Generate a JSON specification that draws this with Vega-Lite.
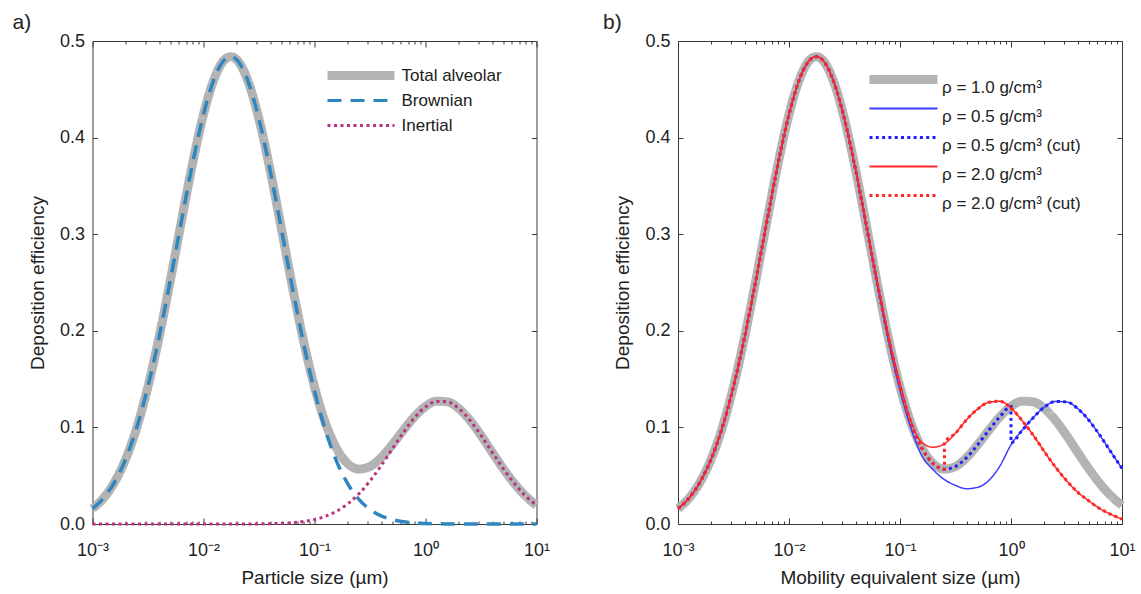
{
  "$schema": "https://vega.github.io/schema/vega-lite/v6.json",
  "padding": {"left": 11.5, "top": 11, "right": 3, "bottom": 5},
  "bounds": "flush",
  "spacing": 141.5,
  "resolve": {"scale": {"color": "independent", "strokeDash": "independent"}, "legend": {"color": "independent", "strokeDash": "independent"}},
  "config": {
    "font": "Liberation Sans",
    "view": {"stroke": "#3a3a3a", "strokeWidth": 1},
    "axis": {"labelFont": "Liberation Sans", "labelFontSize": 18, "labelColor": "#222", "titleFont": "Liberation Sans", "titleFontSize": 19, "titleFontWeight": "normal", "titleColor": "#222", "tickColor": "#3a3a3a", "grid": false, "domain": false},
    "title": {"font": "Liberation Sans", "fontSize": 21, "fontWeight": "normal", "color": "#222"}
  },
  "datasets": {
    "dep": [
      {"d": 0.001, "T": 0.0159, "B": 0.0159, "I": 0, "b": 0.0159, "r": 0.0159, "bc": 0.0159, "rc": 0.0159},
      {"d": 0.001259, "T": 0.0269, "B": 0.0269, "I": 0, "b": 0.0269, "r": 0.0269, "bc": 0.0269, "rc": 0.0269},
      {"d": 0.001585, "T": 0.0436, "B": 0.0436, "I": 0, "b": 0.0436, "r": 0.0436, "bc": 0.0436, "rc": 0.0436},
      {"d": 0.001995, "T": 0.0676, "B": 0.0676, "I": 0, "b": 0.0676, "r": 0.0676, "bc": 0.0676, "rc": 0.0676},
      {"d": 0.002512, "T": 0.1003, "B": 0.1003, "I": 0, "b": 0.1003, "r": 0.1003, "bc": 0.1003, "rc": 0.1003},
      {"d": 0.003162, "T": 0.1424, "B": 0.1424, "I": 0, "b": 0.1424, "r": 0.1424, "bc": 0.1424, "rc": 0.1424},
      {"d": 0.003981, "T": 0.1935, "B": 0.1935, "I": 0, "b": 0.1935, "r": 0.1935, "bc": 0.1935, "rc": 0.1935},
      {"d": 0.005012, "T": 0.2515, "B": 0.2515, "I": 0, "b": 0.2515, "r": 0.2515, "bc": 0.2515, "rc": 0.2515},
      {"d": 0.00631, "T": 0.3129, "B": 0.3129, "I": 0, "b": 0.3129, "r": 0.3129, "bc": 0.3129, "rc": 0.3129},
      {"d": 0.007943, "T": 0.3724, "B": 0.3724, "I": 0, "b": 0.3724, "r": 0.3724, "bc": 0.3724, "rc": 0.3724},
      {"d": 0.01, "T": 0.424, "B": 0.424, "I": 0, "b": 0.424, "r": 0.424, "bc": 0.424, "rc": 0.424},
      {"d": 0.01259, "T": 0.4621, "B": 0.4621, "I": 0, "b": 0.4621, "r": 0.4621, "bc": 0.4621, "rc": 0.4621},
      {"d": 0.01585, "T": 0.4817, "B": 0.4817, "I": 0, "b": 0.4817, "r": 0.4817, "bc": 0.4817, "rc": 0.4817},
      {"d": 0.01778, "T": 0.4838, "B": 0.4838, "I": 0, "b": 0.4838, "r": 0.4838, "bc": 0.4838, "rc": 0.4838},
      {"d": 0.01995, "T": 0.4806, "B": 0.4806, "I": 0, "b": 0.4806, "r": 0.4806, "bc": 0.4806, "rc": 0.4806},
      {"d": 0.02512, "T": 0.4588, "B": 0.4588, "I": 0, "b": 0.4588, "r": 0.4588, "bc": 0.4588, "rc": 0.4588},
      {"d": 0.03162, "T": 0.419, "B": 0.419, "I": 0.0001, "b": 0.419, "r": 0.419, "bc": 0.419, "rc": 0.419},
      {"d": 0.03981, "T": 0.3665, "B": 0.3662, "I": 0.0003, "b": 0.3662, "r": 0.3675, "bc": 0.3665, "rc": 0.3665},
      {"d": 0.05012, "T": 0.3069, "B": 0.3063, "I": 0.0006, "b": 0.3063, "r": 0.3085, "bc": 0.3069, "rc": 0.3069},
      {"d": 0.0631, "T": 0.2463, "B": 0.2451, "I": 0.0013, "b": 0.2452, "r": 0.249, "bc": 0.2463, "rc": 0.2463},
      {"d": 0.07943, "T": 0.1901, "B": 0.1876, "I": 0.0025, "b": 0.1879, "r": 0.1935, "bc": 0.1901, "rc": 0.1901},
      {"d": 0.1, "T": 0.142, "B": 0.1375, "I": 0.0046, "b": 0.1381, "r": 0.146, "bc": 0.142, "rc": 0.142},
      {"d": 0.1259, "T": 0.1043, "B": 0.0964, "I": 0.008, "b": 0.099, "r": 0.106, "bc": 0.1043, "rc": 0.1043},
      {"d": 0.1585, "T": 0.0779, "B": 0.0646, "I": 0.0133, "b": 0.07, "r": 0.084, "bc": 0.0779, "rc": 0.0779},
      {"d": 0.1995, "T": 0.0624, "B": 0.0415, "I": 0.0209, "b": 0.056, "r": 0.0795, "bc": 0.0624, "rc": 0.0624},
      {"d": 0.2512, "T": 0.0568, "B": 0.0255, "I": 0.0313, "b": 0.046, "r": 0.083, "bc": 0.0568, "rc": 0.0568},
      {"d": 0.2513, "rc": 0.084},
      {"d": 0.3162, "T": 0.0596, "B": 0.015, "I": 0.0446, "b": 0.04, "r": 0.094, "bc": 0.0596, "rc": 0.094},
      {"d": 0.3981, "T": 0.0687, "B": 0.0084, "I": 0.0603, "b": 0.0365, "r": 0.108, "bc": 0.0687, "rc": 0.108},
      {"d": 0.5012, "T": 0.0821, "B": 0.0045, "I": 0.0775, "b": 0.038, "r": 0.119, "bc": 0.0821, "rc": 0.119},
      {"d": 0.631, "T": 0.097, "B": 0.0023, "I": 0.0947, "b": 0.045, "r": 0.126, "bc": 0.097, "rc": 0.126},
      {"d": 0.7943, "T": 0.111, "B": 0.0011, "I": 0.1099, "b": 0.06, "r": 0.127, "bc": 0.111, "rc": 0.127},
      {"d": 1, "T": 0.1217, "B": 0.0005, "I": 0.1211, "b": 0.082, "r": 0.12, "bc": 0.1217, "rc": 0.12},
      {"d": 1.0005, "bc": 0.084},
      {"d": 1.259, "T": 0.1272, "B": 0.0002, "I": 0.1269, "b": 0.097, "r": 0.107, "bc": 0.097, "rc": 0.107},
      {"d": 1.585, "T": 0.1264, "B": 0.0001, "I": 0.1263, "b": 0.11, "r": 0.092, "bc": 0.11, "rc": 0.092},
      {"d": 1.995, "T": 0.1195, "B": 0, "I": 0.1195, "b": 0.121, "r": 0.075, "bc": 0.121, "rc": 0.075},
      {"d": 2.512, "T": 0.1074, "B": 0, "I": 0.1074, "b": 0.1268, "r": 0.059, "bc": 0.1268, "rc": 0.059},
      {"d": 3.162, "T": 0.0917, "B": 0, "I": 0.0917, "b": 0.1264, "r": 0.045, "bc": 0.1264, "rc": 0.045},
      {"d": 3.981, "T": 0.0744, "B": 0, "I": 0.0744, "b": 0.1196, "r": 0.033, "bc": 0.1196, "rc": 0.033},
      {"d": 5.012, "T": 0.0574, "B": 0, "I": 0.0574, "b": 0.1076, "r": 0.024, "bc": 0.1076, "rc": 0.024},
      {"d": 6.31, "T": 0.042, "B": 0, "I": 0.042, "b": 0.0919, "r": 0.016, "bc": 0.0919, "rc": 0.016},
      {"d": 7.943, "T": 0.0292, "B": 0, "I": 0.0292, "b": 0.0746, "r": 0.01, "bc": 0.0746, "rc": 0.01},
      {"d": 10, "T": 0.0193, "B": 0, "I": 0.0193, "b": 0.0575, "r": 0.005, "bc": 0.0575, "rc": 0.005}
    ]
  },
  "hconcat": [
    {
      "width": 444,
      "height": 483,
      "title": {"text": "a)", "anchor": "start", "frame": "bounds", "offset": -1, "dx": -16},
      "data": {"name": "dep"},
      "layer": [
        {
          "transform": [{"filter": "isValid(datum.T)"}],
          "mark": {"type": "line", "strokeWidth": 9, "interpolate": "monotone"},
          "encoding": {
            "x": {"field": "d", "type": "quantitative", "scale": {"type": "log", "domain": [0.001, 10], "nice": false},
              "axis": {"orient": "bottom", "values": [0.001,0.002,0.003,0.004,0.005,0.006,0.007,0.008,0.009,0.01,0.02,0.03,0.04,0.05,0.06,0.07,0.08,0.09,0.1,0.2,0.3,0.4,0.5,0.6,0.7,0.8,0.9,1,2,3,4,5,6,7,8,9,10],
                "labelExpr": "datum.value == 0.001 ? '10⁻³' : datum.value == 0.01 ? '10⁻²' : datum.value == 0.1 ? '10⁻¹' : datum.value == 1 ? '10⁰' : datum.value == 10 ? '10¹' : ''",
                "tickSize": {"condition": {"test": "datum.value == 0.001 || datum.value == 0.01 || datum.value == 0.1 || datum.value == 1 || datum.value == 10", "value": -6}, "value": -3},
                "labelPadding": 23, "labelFlush": false, "labelOverlap": false, "title": "Particle size (µm)", "titlePadding": 6}},
            "y": {"field": "T", "type": "quantitative", "scale": {"domain": [0, 0.5], "nice": false},
              "axis": {"orient": "left", "values": [0, 0.1, 0.2, 0.3, 0.4, 0.5], "format": ".1f", "tickSize": -5, "labelPadding": 13, "title": "Deposition efficiency", "titlePadding": 12}},
            "color": {"datum": "T", "type": "nominal", "scale": {"domain": ["T", "B", "I"], "range": ["#b3b3b3", "#2e86c1", "#b8327f"]},
              "legend": {"title": null, "orient": "none", "legendX": 260, "legendY": 26, "symbolType": "stroke", "symbolSize": 4489, "symbolStrokeWidth": 3, "labelFontSize": 17, "labelFont": "Liberation Sans", "labelColor": "#222", "rowPadding": 7, "padding": 0, "labelOffset": 32, "labelLimit": 400,
                "labelExpr": "datum.label == 'T' ? 'Total alveolar' : datum.label == 'B' ? 'Brownian' : 'Inertial'",
                "encode": {"symbols": {"update": {"strokeJoin": {"value": "round"}, "strokeWidth": {"signal": "datum.value === 'T' ? 9 : 3"}}}}}},
            "strokeDash": {"datum": "T", "type": "nominal", "scale": {"domain": ["T", "B", "I"], "range": [[1, 0], [14, 9], [3, 3.5]]},
              "legend": {"title": null, "orient": "none", "legendX": 260, "legendY": 26, "symbolType": "stroke", "symbolSize": 4489, "symbolStrokeWidth": 3, "labelFontSize": 17, "labelFont": "Liberation Sans", "labelColor": "#222", "rowPadding": 7, "padding": 0, "labelOffset": 32, "labelLimit": 400,
                "labelExpr": "datum.label == 'T' ? 'Total alveolar' : datum.label == 'B' ? 'Brownian' : 'Inertial'",
                "encode": {"symbols": {"update": {"strokeJoin": {"value": "round"}, "strokeWidth": {"signal": "datum.value === 'T' ? 9 : 3"}}}}}}
          }
        },
        {
          "transform": [{"filter": "isValid(datum.B)"}],
          "mark": {"type": "line", "strokeWidth": 3.5, "interpolate": "monotone"},
          "encoding": {
            "x": {"field": "d", "type": "quantitative", "scale": {"type": "log", "domain": [0.001, 10], "nice": false},
              "axis": {"orient": "top", "values": [0.001,0.002,0.003,0.004,0.005,0.006,0.007,0.008,0.009,0.01,0.02,0.03,0.04,0.05,0.06,0.07,0.08,0.09,0.1,0.2,0.3,0.4,0.5,0.6,0.7,0.8,0.9,1,2,3,4,5,6,7,8,9,10],
                "labels": false, "title": null,
                "tickSize": {"condition": {"test": "datum.value == 0.001 || datum.value == 0.01 || datum.value == 0.1 || datum.value == 1 || datum.value == 10", "value": -6}, "value": -3}}},
            "y": {"field": "B", "type": "quantitative", "scale": {"domain": [0, 0.5], "nice": false},
              "axis": {"orient": "right", "values": [0, 0.1, 0.2, 0.3, 0.4, 0.5], "labels": false, "title": null, "tickSize": -5}},
            "color": {"datum": "B", "type": "nominal"},
            "strokeDash": {"datum": "B", "type": "nominal"}
          }
        },
        {
          "transform": [{"filter": "isValid(datum.I)"}],
          "mark": {"type": "line", "strokeWidth": 3, "interpolate": "monotone"},
          "encoding": {
            "x": {"field": "d", "type": "quantitative", "axis": null},
            "y": {"field": "I", "type": "quantitative", "axis": null},
            "color": {"datum": "I", "type": "nominal"},
            "strokeDash": {"datum": "I", "type": "nominal"}
          }
        }
      ],
      "resolve": {"axis": {"x": "independent", "y": "independent"}}
    },
    {
      "width": 444,
      "height": 483,
      "title": {"text": "b)", "anchor": "start", "frame": "bounds", "offset": -1, "dx": -11},
      "data": {"name": "dep"},
      "layer": [
        {
          "transform": [{"filter": "isValid(datum.T)"}],
          "mark": {"type": "line", "strokeWidth": 9, "interpolate": "monotone"},
          "encoding": {
            "x": {"field": "d", "type": "quantitative", "scale": {"type": "log", "domain": [0.001, 10], "nice": false},
              "axis": {"orient": "bottom", "values": [0.001,0.002,0.003,0.004,0.005,0.006,0.007,0.008,0.009,0.01,0.02,0.03,0.04,0.05,0.06,0.07,0.08,0.09,0.1,0.2,0.3,0.4,0.5,0.6,0.7,0.8,0.9,1,2,3,4,5,6,7,8,9,10],
                "labelExpr": "datum.value == 0.001 ? '10⁻³' : datum.value == 0.01 ? '10⁻²' : datum.value == 0.1 ? '10⁻¹' : datum.value == 1 ? '10⁰' : datum.value == 10 ? '10¹' : ''",
                "tickSize": {"condition": {"test": "datum.value == 0.001 || datum.value == 0.01 || datum.value == 0.1 || datum.value == 1 || datum.value == 10", "value": -6}, "value": -3},
                "labelPadding": 23, "labelFlush": false, "labelOverlap": false, "title": "Mobility equivalent size (µm)", "titlePadding": 6}},
            "y": {"field": "T", "type": "quantitative", "scale": {"domain": [0, 0.5], "nice": false},
              "axis": {"orient": "left", "values": [0, 0.1, 0.2, 0.3, 0.4, 0.5], "format": ".1f", "tickSize": -5, "labelPadding": 13, "title": "Deposition efficiency", "titlePadding": 12}},
            "color": {"datum": "T", "type": "nominal", "scale": {"domain": ["T", "b", "bc", "r", "rc"], "range": ["#b3b3b3", "#3c3cff", "#1f1fff", "#ff2626", "#ff2626"]},
              "legend": {"title": null, "orient": "none", "legendX": 217, "legendY": 30, "symbolType": "stroke", "symbolSize": 4624, "symbolStrokeWidth": 2, "labelFontSize": 17, "labelFont": "Liberation Sans", "labelColor": "#222", "labelBaseline": "top", "rowPadding": 4, "padding": 0, "labelOffset": 30, "labelLimit": 400,
                "labelExpr": "{'T': 'ρ = 1.0 g/cm³', 'b': 'ρ = 0.5 g/cm³', 'bc': 'ρ = 0.5 g/cm³ (cut)', 'r': 'ρ = 2.0 g/cm³', 'rc': 'ρ = 2.0 g/cm³ (cut)'}[datum.label]",
                "encode": {"symbols": {"update": {"strokeJoin": {"value": "round"}, "strokeWidth": {"signal": "datum.value === 'T' ? 9 : (datum.value === 'bc' || datum.value === 'rc') ? 3 : 1.8"}}}}}},
            "strokeDash": {"datum": "T", "type": "nominal", "scale": {"domain": ["T", "b", "bc", "r", "rc"], "range": [[1, 0], [1, 0], [3, 3.3], [1, 0], [3, 3.3]]},
              "legend": {"title": null, "orient": "none", "legendX": 217, "legendY": 30, "symbolType": "stroke", "symbolSize": 4624, "symbolStrokeWidth": 2, "labelFontSize": 17, "labelFont": "Liberation Sans", "labelColor": "#222", "labelBaseline": "top", "rowPadding": 4, "padding": 0, "labelOffset": 30, "labelLimit": 400,
                "labelExpr": "{'T': 'ρ = 1.0 g/cm³', 'b': 'ρ = 0.5 g/cm³', 'bc': 'ρ = 0.5 g/cm³ (cut)', 'r': 'ρ = 2.0 g/cm³', 'rc': 'ρ = 2.0 g/cm³ (cut)'}[datum.label]",
                "encode": {"symbols": {"update": {"strokeJoin": {"value": "round"}, "strokeWidth": {"signal": "datum.value === 'T' ? 9 : (datum.value === 'bc' || datum.value === 'rc') ? 3 : 1.8"}}}}}}
          }
        },
        {
          "transform": [{"filter": "isValid(datum.b)"}],
          "mark": {"type": "line", "strokeWidth": 1.5, "interpolate": "monotone"},
          "encoding": {
            "x": {"field": "d", "type": "quantitative", "scale": {"type": "log", "domain": [0.001, 10], "nice": false},
              "axis": {"orient": "top", "values": [0.001,0.002,0.003,0.004,0.005,0.006,0.007,0.008,0.009,0.01,0.02,0.03,0.04,0.05,0.06,0.07,0.08,0.09,0.1,0.2,0.3,0.4,0.5,0.6,0.7,0.8,0.9,1,2,3,4,5,6,7,8,9,10],
                "labels": false, "title": null,
                "tickSize": {"condition": {"test": "datum.value == 0.001 || datum.value == 0.01 || datum.value == 0.1 || datum.value == 1 || datum.value == 10", "value": -6}, "value": -3}}},
            "y": {"field": "b", "type": "quantitative", "scale": {"domain": [0, 0.5], "nice": false},
              "axis": {"orient": "right", "values": [0, 0.1, 0.2, 0.3, 0.4, 0.5], "labels": false, "title": null, "tickSize": -5}},
            "color": {"datum": "b", "type": "nominal"},
            "strokeDash": {"datum": "b", "type": "nominal"}
          }
        },
        {
          "transform": [{"filter": "isValid(datum.bc)"}],
          "mark": {"type": "line", "strokeWidth": 3, "interpolate": "monotone"},
          "encoding": {
            "x": {"field": "d", "type": "quantitative", "axis": null},
            "y": {"field": "bc", "type": "quantitative", "axis": null},
            "color": {"datum": "bc", "type": "nominal"},
            "strokeDash": {"datum": "bc", "type": "nominal"}
          }
        },
        {
          "transform": [{"filter": "isValid(datum.r)"}],
          "mark": {"type": "line", "strokeWidth": 1.5, "interpolate": "monotone"},
          "encoding": {
            "x": {"field": "d", "type": "quantitative", "axis": null},
            "y": {"field": "r", "type": "quantitative", "axis": null},
            "color": {"datum": "r", "type": "nominal"},
            "strokeDash": {"datum": "r", "type": "nominal"}
          }
        },
        {
          "transform": [{"filter": "isValid(datum.rc)"}],
          "mark": {"type": "line", "strokeWidth": 3, "interpolate": "monotone"},
          "encoding": {
            "x": {"field": "d", "type": "quantitative", "axis": null},
            "y": {"field": "rc", "type": "quantitative", "axis": null},
            "color": {"datum": "rc", "type": "nominal"},
            "strokeDash": {"datum": "rc", "type": "nominal"}
          }
        }
      ],
      "resolve": {"axis": {"x": "independent", "y": "independent"}}
    }
  ]
}
